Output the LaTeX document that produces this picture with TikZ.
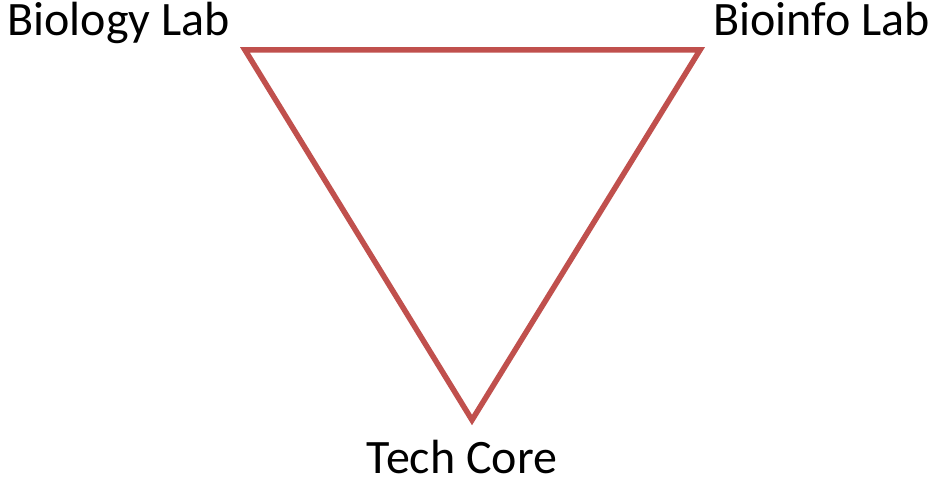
\documentclass[tikz,border=0pt]{standalone}
\usepackage{fontspec}
\setmainfont{Carlito}
\definecolor{edgered}{HTML}{C0504D}
\begin{document}
\begin{tikzpicture}[x=1pt,y=1pt,
  lbl/.style={inner sep=0pt,font=\fontsize{48}{52}\selectfont,text=black},
  edge/.style={draw=edgered,line width=5.5pt,line join=miter}]
\useasboundingbox (0,0) rectangle (932,482);
\coordinate (bl) at (245,432);
\coordinate (bi) at (700,432);
\coordinate (tc) at (472,62);
\draw[edge] (bl) -- (bi) -- (tc) -- cycle;
\node[lbl,anchor=base east] (lbio) at (230,446) {Biology Lab};
\node[lbl,anchor=base west] (linfo) at (713,446) {Bioinfo Lab};
\node[lbl,anchor=base] (ltech) at (462,9) {Tech Core};
\end{tikzpicture}
\end{document}
